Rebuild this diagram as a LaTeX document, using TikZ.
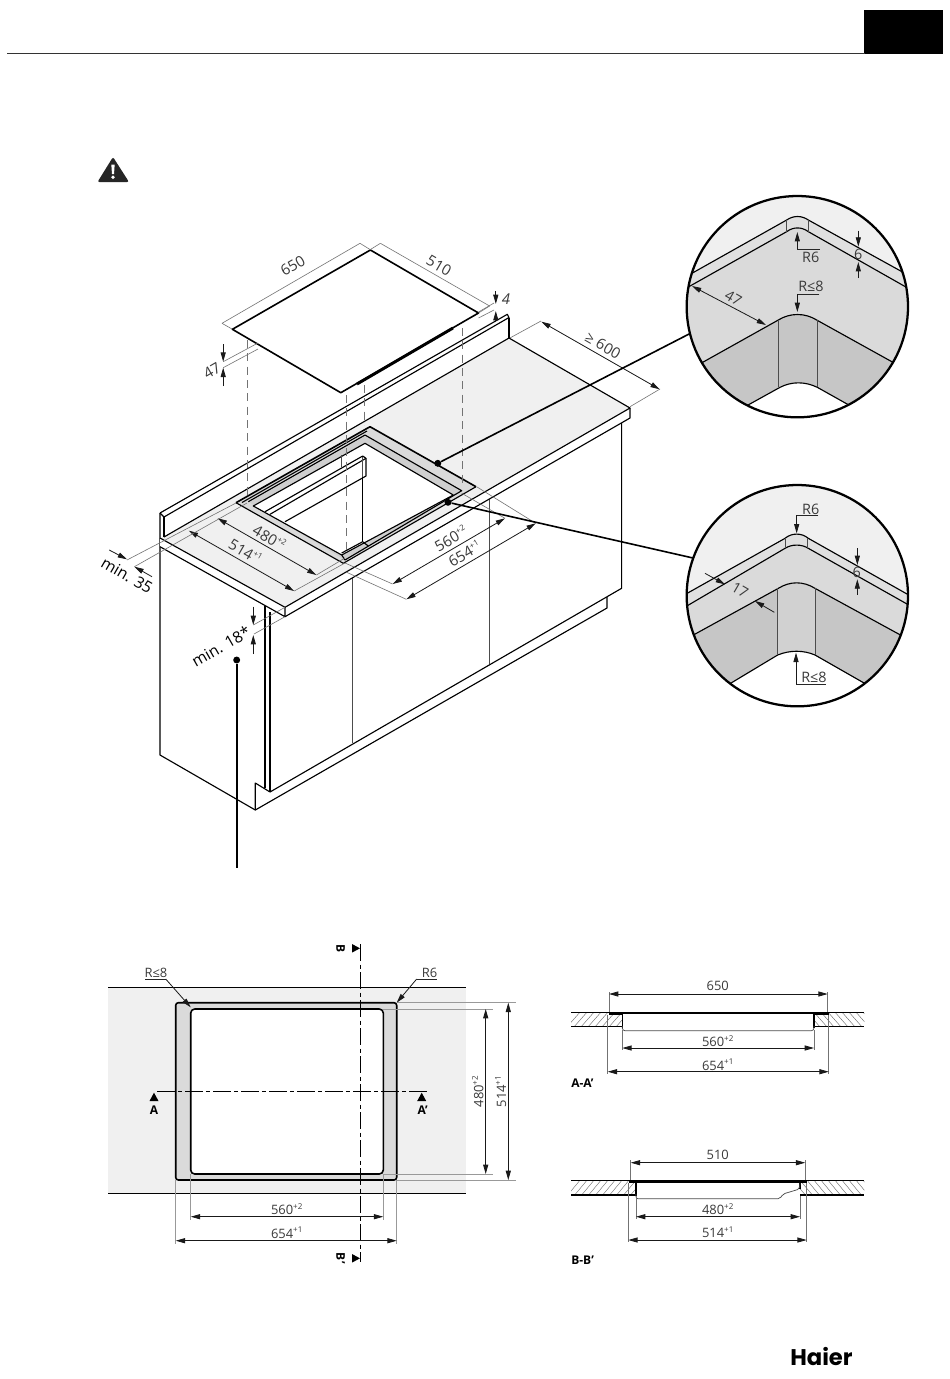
\documentclass[tikz,border=0pt]{standalone}
\usepackage{fontspec}
\setmainfont{Open Sans}
\newfontfamily\logofont{Poppins}
\usetikzlibrary{arrows.meta,calc}
\definecolor{surf}{HTML}{F0F0F0}
\definecolor{band}{HTML}{DADADA}
\definecolor{wall}{HTML}{CFCFCF}
\definecolor{dark}{HTML}{C6C6C6}
\definecolor{txtc}{HTML}{3A3A3A}
\newcommand{\dsup}[1]{\raisebox{.42em}{\fontsize{6}{6}\selectfont #1}}
\newcommand{\isosup}[1]{\raisebox{.42em}{\fontsize{6}{6}\selectfont #1}}
\tikzset{
  x=.75pt,y=-.75pt,
  edge/.style={line width=.85pt,black,line join=round},
  thick edge/.style={line width=1.2pt,black,line join=round},
  thin edge/.style={line width=.55pt,black!70},
  ext/.style={line width=.45pt,black!55},
  dash hidden/.style={line width=.45pt,black!55,dash pattern=on 6pt off 4pt},
  dimline/.style={line width=.6pt,black!90,{Triangle[length=7pt,width=3.8pt]}-{Triangle[length=7pt,width=3.8pt]}},
  arrowend/.style={line width=.6pt,black!90,-{Triangle[length=7pt,width=3.8pt]}},
  leader/.style={line width=.6pt,black!85},
  dimtext/.style={font=\fontsize{9.7}{10}\selectfont,text=txtc,inner sep=0pt},
  lenstext/.style={font=\fontsize{10.8}{11}\selectfont,text=txtc,inner sep=0pt},
  isotext/.style={font=\fontsize{11.2}{12}\selectfont,text=txtc,inner sep=0pt},
  bigtext/.style={font=\fontsize{11.8}{12}\selectfont,text=black,inner sep=0pt},
  cutlabel/.style={font=\fontsize{9}{10}\selectfont\bfseries,text=black,inner sep=0pt},
  centerline/.style={line width=.8pt,black,dash pattern=on 13pt off 2.5pt on 3pt off 2.5pt},
  callout/.style={line width=1.2pt,black},
  lens/.style={line width=1.7pt,black},
  dotmark/.style={circle,fill=black,inner sep=0pt,minimum size=5.2pt},
  hatch/.style={line width=.3pt,black!60},
}
\begin{document}
\begin{tikzpicture}
\useasboundingbox (0,0) rectangle (950,1379);
\fill[white] (0,0) rectangle (950,1379);
% header
\fill[black] (864,10) rectangle (943,54);
\draw[line width=.7pt,black!80] (7,53.5) -- (865,53.5);
% warning icon
\fill[black!85,rounded corners=1.5pt] (113,157) -- (129,182) -- (97.5,182) -- cycle;
\fill[white] (111.3,164.5) -- (114.7,164.5) -- (114,174) -- (112,174) -- cycle;
\fill[white] (113,177.2) circle (1.8);

% --- isometric view: cabinet ---
\draw[edge] (160,513) -- (160,755) -- (255.3,810) -- (607,608) -- (607,597);
\draw[edge] (255.3,810) -- (255.3,783) -- (270,792) -- (621.6,588.3) -- (621.6,423);
\draw[edge] (265,605) -- (265,788);
\draw[edge] (270,612) -- (270,792);
\draw[thin edge,line width=.7pt] (352,578) -- (352,743);
\draw[thin edge,line width=.7pt] (489.6,498.5) -- (489.6,664);
% counter
\coordinate (cL) at (164,537);
\coordinate (cLo) at (160,538);
\coordinate (cB) at (509,338);
\coordinate (cR) at (630,408);
\coordinate (cF) at (285,607.3);
\fill[white] (cLo) -- (cF) -- (285,616.7) -- (630,418) -- (cR) -- (cF) -- (285,616.7) -- (160,546.7) -- cycle;
\fill[surf] (cLo) -- (cL) -- (cB) -- (cR) -- (cF) -- cycle;
\draw[edge] (cL) -- (cB) -- (cR) -- (cF) -- (cLo);
\draw[edge] (cF) -- (285,616.7) -- (160,546.7);
\draw[edge] (cR) -- (630,418) -- (285,616.7);
% upstand
\draw[edge] (160,513) -- (507.3,314.3) -- (509,317.5) -- (164,517) -- (160,513);
\draw[edge] (164,517) -- (cL);
\draw[edge] (509,317.5) -- (cB);
% cut-out
\coordinate (oT) at (370,426.7);
\coordinate (oR) at (476,486.7);
\coordinate (oF) at (343.3,563.3);
\coordinate (oL) at (236,502.7);
\coordinate (mT) at (365,435);
\coordinate (mR) at (461.7,490.7);
\coordinate (mF) at (345,560);
\coordinate (mL) at (248.3,501.7);
\coordinate (iT) at (365,443.3);
\coordinate (iR) at (453.3,495);
\coordinate (iF) at (341.7,555);
\coordinate (iL) at (253.3,506);
\fill[band] (oT) -- (oR) -- (oF) -- (oL) -- cycle;
\fill[wall] (mT) -- (mR) -- (mF) -- (mL) -- cycle;
\fill[white] (iT) -- (iR) -- (iF) -- (iL) -- cycle;
\draw[thick edge] (oL) -- (oT) -- (oR);
\draw[edge] (oR) -- (oF) -- (oL);
\draw[edge] (mL) -- (mT) -- (mR) -- (mF);
\draw[edge] (mF) -- (iF) -- (iL) -- (iT) -- (iR);
\draw[edge] (iF) -- (iR);
\draw[edge] (242,502.5) -- (367,431);
% inside cabinet
\draw[edge] (265,511.7) -- (362.7,456) -- (366,458.3) -- (366,476) -- (285,521.7);
\draw[edge] (270,514.3) -- (366,458.3);
\draw[thin edge] (362.7,457) -- (362.7,477);
\draw[thin edge] (341.7,455) -- (341.7,467);
\draw[edge] (362.7,477.3) -- (362.7,541.7);
\draw[edge] (341.7,553) -- (362.7,541.7) -- (368.3,546);
% hob
\coordinate (hT) at (370.4,250);
\coordinate (hR) at (478.5,313);
\coordinate (hF) at (340.8,392.7);
\coordinate (hL) at (232.4,329.3);
\fill[white] (hT) -- (hR) -- (hF) -- (hL) -- cycle;
\draw[thick edge] (hT) -- (hR) -- (hF) -- (hL) -- cycle;
\draw[line width=2.2pt,black] (357,384) -- (453,328);
% hidden lines
\draw[dash hidden] (247.2,340) -- (247.2,495);
\draw[dash hidden] (346.4,395) -- (346.4,552);
\draw[dash hidden] (363.8,385) -- (363.8,425);
\draw[dash hidden] (461.8,328) -- (461.8,487);
% dimensions 650 / 510
\draw[ext] (222,323.3) -- (360,243.3);
\draw[ext] (222,323.3) -- (232,329);
\draw[ext] (360,243.3) -- (370,249.5);
\draw[ext] (380.4,243.3) -- (489.6,306);
\draw[ext] (380.4,243.3) -- (370.4,249.5);
\draw[ext] (489.6,306) -- (478.5,313);
\node[isotext,rotate=30] (d650) at (292.7,265.7) {650};
\node[isotext,rotate=-30] (d510) at (439,265.7) {510};
\draw[arrowend] (495.8,291) -- (495.8,304);
\draw[arrowend] (495.8,322) -- (495.8,311);
\draw[ext] (478.5,312) -- (494,303);
\draw[ext] (478.5,318) -- (494,310);
\node[isotext] (d4) at (506,299.5) {\itshape 4};
\draw[arrowend] (223.2,344) -- (223.2,361.7);
\draw[arrowend] (223.2,386) -- (223.2,367.7);
\draw[ext] (223.2,361.7) -- (258,343);
\draw[ext] (223.2,367.7) -- (258,349);
\node[isotext,rotate=30] (d47) at (212,371) {47};
% >=600
\draw[ext] (509.9,338) -- (541,321);
\draw[ext] (630,406.7) -- (660,389);
\draw[dimline] (541.4,321.7) -- (659.7,389.3);
\node[isotext,rotate=-30] (d600) at (603,345.5) {≥ 600};
% 480 / 514
\draw[dimline] (217.6,518.3) -- (316.4,575);
\draw[dimline] (188.8,530.7) -- (294.2,591);
\node[isotext,rotate=-30] (d480) at (269.4,537.5) {480\isosup{+2}};
\node[isotext,rotate=-30] (d514) at (245.4,551.5) {514\isosup{+1}};
\draw[ext] (127,560) -- (236,503);
\draw[ext] (134.4,566.7) -- (247,503);
\draw[ext] (316.4,575) -- (345,558);
\draw[ext] (294.2,591) -- (345,563);
% min 35
\draw[arrowend] (109.2,550) -- (127,559.3);
\draw[arrowend] (152,576.7) -- (134.4,566.7);
\node[bigtext,rotate=-30] (m35) at (127,575.5) {min. 35};
% 560 / 654
\draw[dimline] (392.6,584) -- (505,518.3);
\draw[dimline] (406.3,599.3) -- (535.8,523.3);
\node[isotext,rotate=30] (d560) at (450.7,538.5) {560\isosup{+2}};
\node[isotext,rotate=30] (d654) at (464.4,553.5) {654\isosup{+1}};
\draw[ext] (345,563) -- (392.6,584);
\draw[ext] (346,572) -- (406.3,599.3);
\draw[ext] (461.8,493.3) -- (505,518.3);
\draw[ext] (476.6,486.7) -- (535.8,523.3);
% min 18
\draw[arrowend] (253.3,606.7) -- (253.3,625);
\draw[arrowend] (253.3,654) -- (253.3,635);
\draw[ext] (253.3,625) -- (285,607.3);
\draw[ext] (254,634) -- (285,616.7);
\node[bigtext,rotate=30] (m18) at (221,646.5) {min. 18*};
% callouts
\node[dotmark] (dot1) at (437.8,463.3) {};
\node[dotmark] (dot2) at (448,502.3) {};
\node[dotmark] (dot3) at (236.7,660) {};
\coordinate (lens1) at (797.3,306.7);
\coordinate (lens2) at (797.3,595.7);
\coordinate (foot) at (236.7,868);
\draw[callout] (dot3) -- (foot);
\draw[callout] (dot1) -- (691,333);
\draw[callout] (dot2) -- (693,558);

% --- lens 1 ---
\begin{scope}[shift={(680,190)},x=.25pt,y=-.25pt]
\begin{scope}
\clip (352,350) circle (332);
\fill[surf] (0,0) rectangle (720,700);
\fill[band] (0,270) -- (320,90) .. controls (340,76) and (365,76) .. (385,90) -- (720,275) -- (720,700) -- (0,700) -- cycle;
\fill[band!85!white] (0,270) -- (320,90) .. controls (340,76) and (365,76) .. (385,90) -- (720,275) -- (720,315) -- (385,125) .. controls (365,110) and (340,110) .. (320,125) -- (0,305) -- cycle;
\fill[dark] (0,555) -- (295,390) .. controls (330,368) and (375,368) .. (410,390) -- (720,562) -- (720,700) -- (0,700) -- cycle;
\fill[white] (150,675) -- (300,592) .. controls (335,574) and (375,574) .. (412,592) -- (560,675) -- (560,700) -- (150,700) -- cycle;
\draw[edge] (0,270) -- (320,90) .. controls (340,76) and (365,76) .. (385,90) -- (720,275);
\draw[edge] (0,305) -- (320,125) .. controls (340,110) and (365,110) .. (385,125) -- (720,315);
\draw[edge] (0,555) -- (295,390) .. controls (330,368) and (375,368) .. (410,390) -- (720,562);
\draw[edge] (150,675) -- (300,592) .. controls (335,574) and (375,574) .. (412,592) -- (560,675);
\draw[thin edge] (320,90) -- (320,125);
\draw[thin edge] (385,90) -- (385,125);
\draw[thin edge] (295,390) -- (295,592);
\draw[thin edge] (412,390) -- (412,592);
\end{scope}
\draw[lens] (352,350) circle (332);
\draw[arrowend] (352,178) -- (352,126);
\draw[leader] (352,178) -- (420,178);
\node[lenstext] (l1r6) at (392,201) {R6};
\node[lenstext] (l1r8) at (393,290) {R≤8};
\draw[leader] (418,312) -- (352,312);
\draw[arrowend] (352,312) -- (352,366);
\draw[arrowend] (535,122) -- (535,170);
\draw[arrowend] (535,264) -- (535,216);
\node[lenstext] (l16) at (535,192) {6};
\draw[dimline] (36,288) -- (258,405);
\node[lenstext,rotate=-30] (l147) at (160,325) {47};
\end{scope}

% --- lens 2 ---
\begin{scope}[shift={(680,480)},x=.25pt,y=-.25pt]
\begin{scope}
\clip (352,347) circle (332);
\fill[surf] (0,0) rectangle (720,700);
\fill[band] (0,352) -- (315,175) .. controls (335,158) and (365,158) .. (385,175) -- (720,364) -- (720,700) -- (0,700) -- cycle;
\fill[band!85!white] (0,352) -- (315,175) .. controls (335,158) and (365,158) .. (385,175) -- (720,364) -- (720,394) -- (385,205) .. controls (365,192) and (335,192) .. (315,205) -- (0,390) -- cycle;
\fill[dark] (0,487) -- (295,325) .. controls (330,303) and (370,303) .. (405,325) -- (720,497) -- (720,700) -- (0,700) -- cycle;
\fill[band!55!dark] (293,325) .. controls (330,303) and (370,303) .. (405,325) -- (405,525) .. controls (370,510) and (330,510) .. (293,525) -- cycle;
\fill[white] (130,623) -- (293,525) .. controls (330,510) and (370,510) .. (405,525) -- (580,625) -- (580,700) -- (130,700) -- cycle;
\draw[edge] (0,352) -- (315,175) .. controls (335,158) and (365,158) .. (385,175) -- (720,364);
\draw[edge] (0,390) -- (315,205) .. controls (335,192) and (365,192) .. (385,205) -- (720,394);
\draw[edge] (0,487) -- (295,325) .. controls (330,303) and (370,303) .. (405,325) -- (720,497);
\draw[edge] (130,623) -- (293,525) .. controls (330,510) and (370,510) .. (405,525) -- (580,625);
\draw[thin edge] (315,175) -- (315,205);
\draw[thin edge] (383,175) -- (383,205);
\draw[thin edge] (293,325) -- (293,525);
\draw[thin edge] (405,325) -- (405,525);
\end{scope}
\draw[lens] (352,347) circle (332);
\draw[leader] (415,105) -- (350,105);
\draw[arrowend] (350,105) -- (350,160);
\node[lenstext] (l2r6) at (392,87) {R6};
\draw[arrowend] (532,205) -- (532,255);
\draw[arrowend] (532,344) -- (532,298);
\node[lenstext] (l26) at (530,276) {6};
\draw[arrowend] (75,280) -- (135,313);
\draw[arrowend] (283,397) -- (225,363);
\node[lenstext,rotate=-30] (l217) at (180,330) {17};
\draw[arrowend] (348,612) -- (348,518);
\draw[leader] (348,612) -- (438,612);
\node[lenstext] (l2r8) at (402,592) {R≤8};
\end{scope}

% --- plan ---
\fill[surf] (108.3,987.3) rectangle (466,1193.3);
\draw[thick edge] (108.3,987.3) -- (466,987.3);
\draw[thick edge] (108.3,1193.3) -- (466,1193.3);
\draw[thick edge,fill=band,rounded corners=2pt] (175.7,1002.7) rectangle (396.7,1180);
\draw[thick edge,fill=white,rounded corners=3pt] (190.7,1009) rectangle (383.3,1174);
\draw[ext,black!40] (383.3,1009) -- (493,1009);
\draw[ext,black!40] (383.3,1174) -- (493,1174);
\draw[ext,black!40] (396.7,1002.7) -- (516,1002.7);
\draw[ext,black!40] (396.7,1180) -- (516,1180);
\draw[ext,black!40] (190.7,1174) -- (190.7,1220);
\draw[ext,black!40] (383.3,1174) -- (383.3,1220);
\draw[ext,black!40] (175.7,1180) -- (175.7,1244);
\draw[ext,black!40] (396.7,1180) -- (396.7,1244);
\draw[centerline] (360.7,944) -- (360.7,1262);
\draw[centerline] (157.3,1091.7) -- (426.7,1091.7);
\fill[black] (154,1092.7) -- (158.5,1101) -- (149.5,1101) -- cycle;
\fill[black] (421.7,1092.7) -- (426.2,1101) -- (417.2,1101) -- cycle;
\fill[black] (360,948.3) -- (352,944) -- (352,952.6) -- cycle;
\fill[black] (360,1258.3) -- (352,1254) -- (352,1262.6) -- cycle;
\node[cutlabel] (lA) at (154,1110) {A};
\node[cutlabel] (lAp) at (422.7,1110) {A'};
\node[cutlabel,rotate=-90] (lB) at (340.7,948.3) {B};
\node[cutlabel,rotate=-90] (lBp) at (340.7,1258.3) {B'};
\node[dimtext] (pr8) at (156,972.5) {R≤8};
\node[dimtext] (pr6) at (429.5,972.5) {R6};
\draw[leader] (145,979) -- (165.7,979);
\draw[arrowend] (165.7,979) -- (190.7,1007.3);
\draw[leader] (436.7,979) -- (416.7,979);
\draw[arrowend] (416.7,979) -- (396.7,1002.7);
\draw[dimline] (485.7,1009) -- (485.7,1174);
\draw[dimline] (508.3,1002.7) -- (508.3,1180);
\node[dimtext,rotate=90] (p480) at (477.7,1091.7) {480\dsup{+2}};
\node[dimtext,rotate=90] (p514) at (500.7,1091.7) {514\dsup{+1}};
\draw[dimline] (190.7,1216.7) -- (383.3,1216.7);
\draw[dimline] (175.7,1240.7) -- (396.7,1240.7);
\node[dimtext] (p560) at (286.7,1209.3) {560\dsup{+2}};
\node[dimtext] (p654) at (286.7,1232.7) {654\dsup{+1}};

% --- section A-A' ---
\begin{scope}
\clip (571,1012.3) rectangle (622.3,1026.7);
\foreach \k in {0,...,9}{\draw[hatch] (566+\k*7,1028) -- (566+\k*7+15,1011);}
\end{scope}
\begin{scope}
\clip (814,1012.3) rectangle (864.3,1026.7);
\foreach \k in {0,...,9}{\draw[hatch] (806+\k*7,1011) -- (806+\k*7+15,1028);}
\end{scope}
\draw[edge] (571,1012.3) -- (609,1012.3);
\draw[edge] (828,1012.3) -- (864.3,1012.3);
\draw[edge] (571,1026.7) -- (622.3,1026.7);
\draw[edge] (814,1026.7) -- (864.3,1026.7);
\draw[line width=1.6pt,black] (609,1013.3) -- (828,1013.3);
\fill[black] (608.5,1012.3) rectangle (622.3,1015);
\fill[black] (814,1012.3) rectangle (828.5,1015);
\draw[edge,line width=1pt] (622.3,1014) -- (622.3,1028);
\draw[edge,line width=1pt] (814,1014) -- (814,1028);
\draw[thin edge,rounded corners=2pt] (622.3,1026) -- (622.3,1030.7) -- (814,1030.7) -- (814,1026);
\draw[ext] (609,992) -- (609,1012);
\draw[ext] (827.7,992) -- (827.7,1012);
\draw[ext] (622.3,1030) -- (622.3,1050);
\draw[ext] (814,1030) -- (814,1050);
\draw[ext] (607.7,1015) -- (607.7,1074);
\draw[ext] (828.7,1015) -- (828.7,1074);
\draw[dimline] (609,994) -- (827.7,994);
\draw[dimline] (622.3,1048) -- (814,1048);
\draw[dimline] (607.7,1071.7) -- (828.7,1071.7);
\node[dimtext] (s650) at (717.7,986) {650};
\node[dimtext] (s560) at (717.7,1041) {560\dsup{+2}};
\node[dimtext] (s654) at (717.7,1064.7) {654\dsup{+1}};
\node[cutlabel,anchor=west] (sAA) at (571,1083.3) {A-A'};

% --- section B-B' ---
\begin{scope}
\clip (571,1180.7) rectangle (636,1195);
\foreach \k in {0,...,11}{\draw[hatch] (566+\k*7,1197) -- (566+\k*7+15,1179);}
\end{scope}
\begin{scope}
\clip (800,1180.7) rectangle (864.3,1195);
\foreach \k in {0,...,11}{\draw[hatch] (792+\k*7,1179) -- (792+\k*7+15,1197);}
\end{scope}
\draw[edge] (571,1180.7) -- (864.3,1180.7);
\draw[edge] (571,1195) -- (636,1195);
\draw[edge] (800,1195) -- (864.3,1195);
\draw[line width=2pt,black] (629,1181.7) -- (806.7,1181.7);
\draw[edge,line width=1pt] (636,1183) -- (636,1196);
\draw[edge,line width=1pt] (800,1183) -- (800,1189);
\draw[thin edge,rounded corners=1.5pt] (636,1194) -- (636,1198.7) -- (780,1198.7) -- (783,1194) -- (799.5,1189) -- (800,1183);
\draw[ext] (630.7,1160) -- (630.7,1180);
\draw[ext] (805.3,1160) -- (805.3,1180);
\draw[ext] (636,1196) -- (636,1219);
\draw[ext] (800,1196) -- (800,1219);
\draw[ext] (628.3,1183) -- (628.3,1242);
\draw[ext] (806.7,1183) -- (806.7,1242);
\draw[dimline] (630.7,1162.7) -- (805.3,1162.7);
\draw[dimline] (636,1216.7) -- (800,1216.7);
\draw[dimline] (628.3,1240) -- (806.7,1240);
\node[dimtext] (s510) at (717.7,1155) {510};
\node[dimtext] (s480) at (717.7,1209.3) {480\dsup{+2}};
\node[dimtext] (s514) at (717.7,1232.3) {514\dsup{+1}};
\node[cutlabel,anchor=west] (sBB) at (571,1260) {B-B'};
% logo
\node[inner sep=0pt,text=black] (logo) at (821.5,1356) {\fontsize{17}{18}\logofont\bfseries Haier};
\end{tikzpicture}
\end{document}
